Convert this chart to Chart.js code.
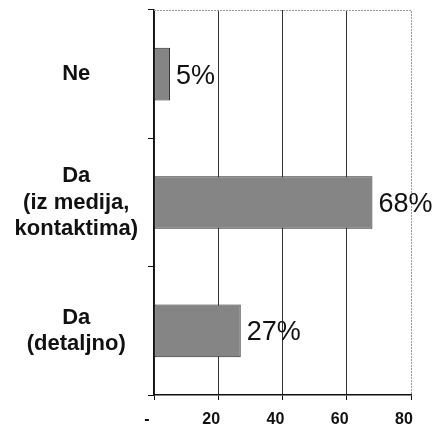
<!DOCTYPE html>
<html>
<head>
<meta charset="utf-8">
<script src="https://cdn.jsdelivr.net/npm/chart.js@4/dist/chart.umd.min.js"></script>
<style>
  body { margin: 0; background: #fff; }
  #wrap { width: 434px; height: 425px; }
</style>
</head>
<body>
<div id="wrap"><canvas id="chart" width="434" height="425"></canvas></div>
<script>
// DATOS DE LA GRÁFICA
const categories = [
  ['Ne'],
  ['Da', '(iz medija,', 'kontaktima)'],
  ['Da', '(detaljno)']
];
const values = [5, 68, 27];
const xTicks = [0, 20, 40, 60, 80];

const FONT = '"Liberation Sans", Arial, sans-serif';

// ETIQUETAS DE PORCENTAJE JUNTO A LAS BARRAS
const valueLabels = {
  id: 'valueLabels',
  afterDatasetsDraw(chart) {
    const ctx = chart.ctx;
    const meta = chart.getDatasetMeta(0);
    ctx.save();
    ctx.font = '27px ' + FONT;
    ctx.fillStyle = '#111';
    ctx.textAlign = 'left';
    ctx.textBaseline = 'middle';
    meta.data.forEach((bar, i) => {
      ctx.fillText(values[i] + '%', bar.x + 6, bar.y + 2);
    });
    ctx.restore();
  }
};

// MARCO PUNTEADO (ARRIBA Y DERECHA)
const frame = {
  id: 'frame',
  beforeDatasetsDraw(chart) {
    const a = chart.chartArea;
    const ctx = chart.ctx;
    ctx.save();
    ctx.strokeStyle = '#9a9a9a';
    ctx.lineWidth = 1;
    ctx.setLineDash([2, 1]);
    ctx.beginPath();
    ctx.moveTo(a.left, a.top + 0.5);
    ctx.lineTo(a.right + 0.5, a.top + 0.5);
    ctx.lineTo(a.right + 0.5, a.bottom);
    ctx.stroke();
    ctx.restore();
  }
};

new Chart(document.getElementById('chart'), {
  type: 'bar',
  data: {
    labels: categories,
    datasets: [{
      data: values,
      backgroundColor: '#858585',
      borderColor: '#2a2a2a',
      borderWidth: 1,
      borderSkipped: false,
      categoryPercentage: 1,
      barPercentage: 0.41
    }]
  },
  options: {
    indexAxis: 'y',
    responsive: false,
    animation: false,
    devicePixelRatio: 1,
    layout: { padding: { left: 0, top: 10, right: 23, bottom: 0 } },
    plugins: {
      legend: { display: false },
      tooltip: { enabled: false }
    },
    scales: {
      x: {
        min: 0,
        max: 80,
        afterBuildTicks: (scale) => { scale.ticks = xTicks.map(v => ({ value: v })); },
        afterFit: (scale) => {
          scale.height = 30;
          scale.paddingLeft = 0;
          scale.paddingRight = 0;
        },
        ticks: {
          color: '#111',
          font: { family: FONT, size: 16, weight: 'bold' },
          padding: 10,
          labelOffset: -7,
          maxRotation: 0,
          callback: (v) => v === 0 ? '-' : v
        },
        grid: {
          color: (c) => (c.tick && c.tick.value === 80) ? 'rgba(0,0,0,0)' : '#333',
          tickColor: '#111',
          tickLength: 5,
          lineWidth: 1
        },
        border: { color: '#111', width: 1.5 }
      },
      y: {
        afterFit: (scale) => {
          scale.width = 154;
          scale.paddingTop = 0;
          scale.paddingBottom = 0;
        },
        ticks: {
          color: '#111',
          font: { family: FONT, size: 22, weight: 'bold', lineHeight: 1.2 },
          crossAlign: 'center',
          padding: 10
        },
        grid: {
          drawOnChartArea: false,
          tickColor: '#111',
          tickLength: 6
        },
        border: { color: '#111', width: 1.5 }
      }
    }
  },
  plugins: [frame, valueLabels]
});
</script>
</body>
</html>
